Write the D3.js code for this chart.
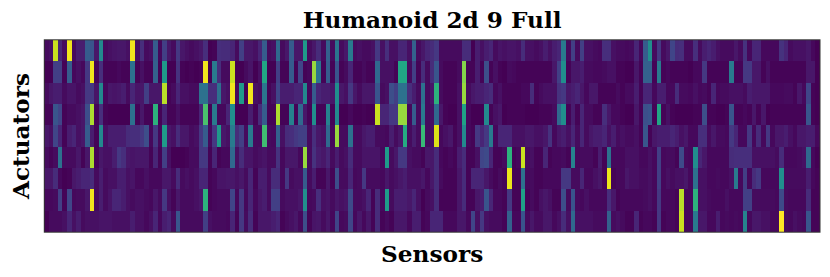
<!DOCTYPE html>
<html>
<head>
<meta charset="utf-8">
<script src="https://cdn.jsdelivr.net/npm/d3@7"></script>
<style>
  html, body { margin: 0; padding: 0; background: #fff; }
  svg { display: block; }
  text { font-family: 'DejaVu Serif', serif; font-weight: bold; fill: #000; }
</style>
</head>
<body>
<div id="chart"></div>
<script>
const r0 = [5,6,92,12,5,98,5,10,10,30,28,8,48,5,6,7,8,8,6,98,6,15,5,6,30,4,20,8,5,18,8,6,5,6,8,15,0,3,15,14,14,12,
  5,20,8,8,6,12,30,5,6,35,5,8,30,8,8,55,5,8,14,5,32,5,40,5,8,42,5,6,5,5,6,18,6,15,6,6,12,12,6,32,5,8,12,
  14,18,5,5,5,5,5,14,14,2,10,6,10,12,5,7,6,7,7,6,14,6,6,5,6,10,6,10,12,42,5,20,5,20,6,6,5,4,15,15,6,5,5,
  4,5,12,4,30,50,5,18,5,8,22,14,15,5,5,15,5,10,12,10,6,5,5,5,8,5,16,4,12,12,4,4,4,4,16,12,5,6,6,6,8,4,2]
const r1 = [2,2,20,20,3,30,4,6,4,18,98,3,15,3,3,3,4,3,3,38,3,6,3,3,32,3,55,2,2,16,3,2,3,2,3,98,2,42,15,5,5,92,
  2,2,5,7,2,6,60,2,2,20,3,3,30,3,22,3,4,85,40,3,30,3,28,3,5,12,3,3,5,3,3,35,6,6,6,3,60,60,5,20,3,14,5,
  14,28,5,3,3,3,5,82,3,3,10,3,25,3,6,3,1,5,4,3,3,3,3,3,3,3,3,8,20,50,3,8,8,10,5,5,4,4,5,6,6,3,3,
  2,2,8,3,32,32,3,42,3,4,3,3,3,3,2,4,4,18,3,3,3,3,3,42,3,3,18,18,8,8,3,6,3,3,3,3,3,3,3,3,8,8,2]
const r2 = [5,8,10,10,5,7,7,5,6,18,18,7,48,4,8,7,8,10,5,12,7,8,20,8,8,8,90,3,5,12,6,6,5,5,38,38,15,15,38,8,6,98,
  4,55,2,98,6,5,40,3,6,22,10,10,10,12,12,48,4,30,12,10,10,8,50,8,6,18,8,5,8,8,8,28,5,6,25,20,38,38,15,10,5,38,5,
  8,65,5,3,3,3,6,85,5,8,10,10,12,14,4,6,3,3,3,3,4,4,14,3,5,6,6,6,16,18,8,10,12,8,4,8,8,3,3,3,3,5,3,
  5,5,10,3,12,12,4,10,10,4,4,14,5,5,4,6,4,5,3,12,4,5,5,6,6,6,5,10,8,8,8,8,4,4,4,5,5,3,8,4,22,3,2]
const r3 = [3,3,28,22,3,5,5,6,8,25,88,3,15,3,1,1,1,1,2,38,3,8,3,3,65,3,12,3,3,6,3,3,3,3,12,72,3,42,4,4,12,50,
  2,2,2,10,3,14,30,3,3,88,3,3,45,3,35,8,3,50,3,3,45,3,48,2,2,4,2,2,3,2,2,92,12,12,18,18,85,85,4,30,5,42,5,
  6,35,8,3,2,2,6,58,4,2,2,2,48,3,6,8,2,3,3,3,3,2,2,2,3,3,3,5,35,50,3,10,3,12,5,5,3,3,15,8,4,4,3,
  2,2,8,3,26,28,3,60,3,6,3,2,2,2,2,3,3,25,3,3,2,2,3,28,3,3,4,3,8,3,8,2,3,3,3,3,3,3,3,3,28,3,2]
const r4 = [8,6,22,12,3,10,12,6,8,30,10,3,48,6,10,10,10,10,14,15,15,18,25,4,18,4,55,8,6,14,8,8,5,6,18,30,5,18,55,8,6,42,
  14,20,5,42,5,5,70,5,4,32,6,14,15,18,20,20,5,15,8,6,35,4,85,5,5,38,5,5,8,10,10,5,5,4,10,5,8,62,5,10,5,68,5,
  6,95,4,6,8,3,6,48,4,3,18,12,18,42,4,12,12,12,6,6,6,8,8,6,6,8,16,4,8,10,6,12,5,12,5,8,10,10,12,6,10,5,6,
  5,5,6,3,28,3,8,10,10,10,12,10,6,8,4,4,15,15,5,8,5,5,4,18,12,4,4,18,4,14,4,18,4,8,8,10,6,4,8,8,10,10,4]
const r5 = [5,3,5,38,5,5,5,8,3,8,88,3,8,6,6,10,18,15,8,7,8,8,8,3,12,3,20,6,1,1,1,3,5,5,18,18,3,12,3,4,4,35,
  6,14,7,7,5,6,7,5,5,16,4,8,8,8,4,85,5,16,10,8,12,5,10,5,6,14,5,5,7,7,7,7,4,55,5,8,18,18,6,5,5,3,8,
  8,14,4,3,4,3,10,14,3,3,6,22,24,12,3,3,5,65,3,4,92,5,6,3,3,12,3,4,4,5,3,45,4,5,5,5,3,10,3,38,4,4,4,
  6,6,6,4,4,6,4,20,4,5,5,3,24,5,4,50,12,8,4,4,4,4,4,14,15,15,15,15,6,6,6,6,6,5,14,4,4,4,5,6,35,4,2]
const r6 = [8,8,14,4,2,3,8,10,12,12,14,5,10,5,6,6,10,10,6,7,4,4,6,4,4,4,8,8,5,14,5,6,5,6,12,12,3,4,7,7,8,8,
  6,8,5,12,3,10,10,5,14,14,4,18,5,6,6,30,5,10,3,3,8,3,25,5,5,12,4,5,18,5,5,5,4,8,5,6,8,10,6,6,6,8,4,
  8,14,5,3,3,3,8,14,3,12,12,12,8,5,3,5,3,97,3,3,38,4,5,3,3,4,4,4,4,18,18,5,5,12,4,4,6,8,3,97,3,4,4,
  8,6,6,5,5,6,4,20,4,6,5,6,6,8,4,38,6,6,4,4,5,4,4,6,42,4,20,4,14,18,4,4,4,4,50,5,5,5,5,5,10,4,3]
const r7 = [4,4,5,20,3,22,4,5,5,8,98,5,10,5,7,12,12,10,6,5,6,6,5,4,8,5,18,6,3,8,5,5,5,6,8,65,3,4,5,5,5,22,
  4,18,4,12,4,8,10,5,20,20,5,6,6,6,8,50,4,5,15,6,7,5,8,6,7,24,5,5,6,12,3,14,4,55,5,10,10,10,8,12,6,2,5,
  6,14,3,3,3,3,8,14,3,3,8,10,28,12,4,4,3,18,3,3,58,3,5,3,6,8,6,3,3,25,5,28,5,4,6,4,4,4,4,15,8,3,4,
  4,4,4,4,5,6,4,18,4,4,4,3,90,4,4,65,6,6,5,4,4,4,6,4,4,4,20,20,5,5,5,5,5,4,24,5,4,4,4,4,14,3,3]
const r8 = [2,5,5,5,6,12,6,10,5,6,6,6,7,7,7,6,6,6,6,10,6,6,4,6,12,4,10,12,5,28,5,5,5,5,5,20,6,5,5,5,4,12,
  3,18,5,14,3,8,8,8,10,12,3,5,6,8,4,25,3,7,8,5,8,4,22,4,5,22,4,8,4,8,3,14,3,5,3,8,8,8,4,10,10,3,4,
  12,12,12,4,4,4,8,8,4,22,6,18,6,5,5,5,3,32,4,4,28,5,8,5,5,8,8,4,6,14,6,35,6,6,6,6,5,5,5,32,5,6,5,
  3,3,12,3,4,4,3,18,3,4,4,3,92,4,4,42,8,8,4,4,10,4,5,4,5,4,45,4,8,8,6,6,4,4,100,5,4,6,5,4,28,3,3]

const rows = [r0, r1, r2, r3, r4, r5, r6, r7, r8]

const width = 830
const height = 277
const plotLeft = 44.3
const plotRight = 820
const plotTop = 39.8
const plotBottom = 232.2

const x = d3.scaleBand().domain(d3.range(r0.length)).range([plotLeft, plotRight])
const y = d3.scaleBand().domain(d3.range(rows.length)).range([plotTop, plotBottom])
const color = d3.scaleSequential(d3.interpolateViridis).domain([2, 100]).clamp(true)

const svg = d3.select('#chart').append('svg')
  .attr('width', width)
  .attr('height', height)

svg.append('g')
  .attr('shape-rendering', 'crispEdges')
  .selectAll('g')
  .data(rows)
  .join('g')
  .attr('transform', (d, i) => `translate(0,${y(i)})`)
  .selectAll('rect')
  .data(d => d)
  .join('rect')
  .attr('x', (d, i) => x(i))
  .attr('width', x.bandwidth())
  .attr('height', y.bandwidth())
  .attr('fill', d => color(d))

svg.append('rect')
  .attr('x', plotLeft)
  .attr('y', plotTop)
  .attr('width', plotRight - plotLeft)
  .attr('height', plotBottom - plotTop)
  .attr('fill', 'none')
  .attr('stroke', '#333')
  .attr('stroke-width', 1)

svg.append('text')
  .attr('x', (plotLeft + plotRight) / 2)
  .attr('y', 28)
  .attr('text-anchor', 'middle')
  .attr('font-size', 23.2)
  .text('Humanoid 2d 9 Full')

svg.append('text')
  .attr('x', (plotLeft + plotRight) / 2)
  .attr('y', 262)
  .attr('text-anchor', 'middle')
  .attr('font-size', 23.2)
  .text('Sensors')

svg.append('text')
  .attr('transform', `translate(29,${(plotTop + plotBottom) / 2}) rotate(-90)`)
  .attr('text-anchor', 'middle')
  .attr('font-size', 23.2)
  .text('Actuators')
</script>
</body>
</html>
